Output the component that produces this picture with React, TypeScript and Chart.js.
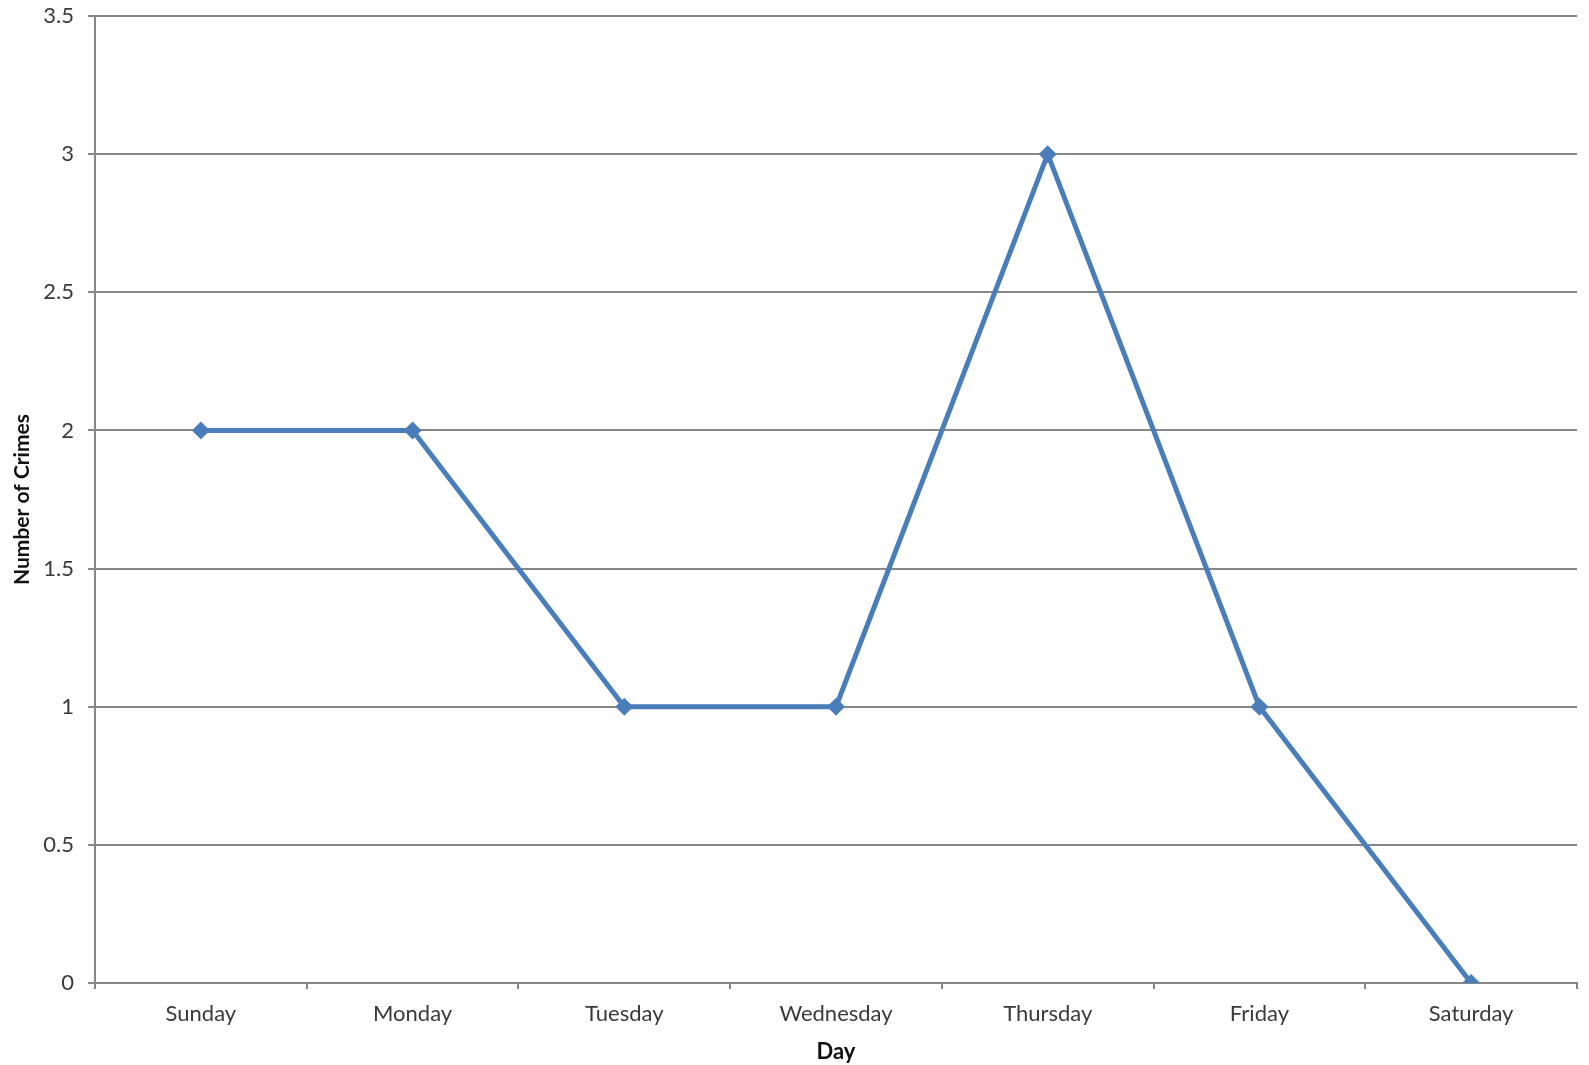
import React, { useEffect, useRef } from "react";
import { Chart, registerables } from "chart.js";

Chart.register(...registerables);

const categories = ["Sunday", "Monday", "Tuesday", "Wednesday", "Thursday", "Friday", "Saturday"];
const crimes = [2, 2, 1, 1, 3, 1, 0];
const yTitle = "Number of Crimes";
const xTitle = "Day";

export default function App() {
  const ref = useRef<HTMLCanvasElement | null>(null);

  useEffect(() => {
    document.body.style.margin = "0";
    const ctx = ref.current;
    if (!ctx) return;
    const gridColor = "#878787";
    const chart = new Chart(ctx, {
      type: "line",
      data: {
        labels: categories,
        datasets: [
          {
            data: crimes,
            borderColor: "#4a7ebb",
            backgroundColor: "#4a7ebb",
            borderWidth: 5,
            pointStyle: "rectRot",
            pointRadius: 9,
            pointBorderWidth: 0,
            pointBackgroundColor: "#4a7ebb",
            tension: 0,
          },
        ],
      },
      options: {
        animation: false,
        responsive: true,
        maintainAspectRatio: false,
        layout: { padding: { top: 16, right: 12, left: 0, bottom: 0 } },
        plugins: { legend: { display: false }, tooltip: { enabled: false } },
        scales: {
          x: {
            type: "category",
            offset: true,
            grid: {
              offset: true,
              drawOnChartArea: false,
              drawTicks: true,
              tickLength: 6,
              color: gridColor,
              lineWidth: 2,
            },
            border: { display: true, color: gridColor, width: 2 },
            ticks: {
              padding: 12,
              color: "#3a3a3a",
              font: { family: "Lato", size: 22 },
              maxRotation: 0,
            },
            title: {
              display: true,
              text: xTitle,
              color: "#111",
              font: { family: "Lato", size: 22, weight: "bold" },
              padding: { top: 0, bottom: 0 },
            },
            afterFit: (scale: any) => {
              scale.height = 82;
              scale.paddingLeft = 0;
              scale.paddingRight = 0;
            },
          },
          y: {
            min: 0,
            max: 3.5,
            ticks: {
              stepSize: 0.5,
              padding: 14,
              color: "#3a3a3a",
              font: { family: "Lato", size: 22 },
              callback: (v: any) => `${Number(v)}`,
            },
            grid: {
              color: gridColor,
              lineWidth: 2,
              tickLength: 7,
              drawTicks: true,
            },
            border: { display: true, color: gridColor, width: 2 },
            title: {
              display: true,
              text: yTitle,
              color: "#111",
              font: { family: "Lato", size: 21, weight: "bold" },
              padding: { top: 10, bottom: 0 },
            },
            afterFit: (scale: any) => {
              scale.width = 95;
              scale.paddingTop = 0;
              scale.paddingBottom = 0;
            },
          },
        },
      },
    });
    return () => chart.destroy();
  }, []);

  return (
    <div style={{ position: "absolute", left: 0, top: 0, width: 1589, height: 1065, background: "#fff" }}>
      <canvas ref={ref} />
    </div>
  );
}
